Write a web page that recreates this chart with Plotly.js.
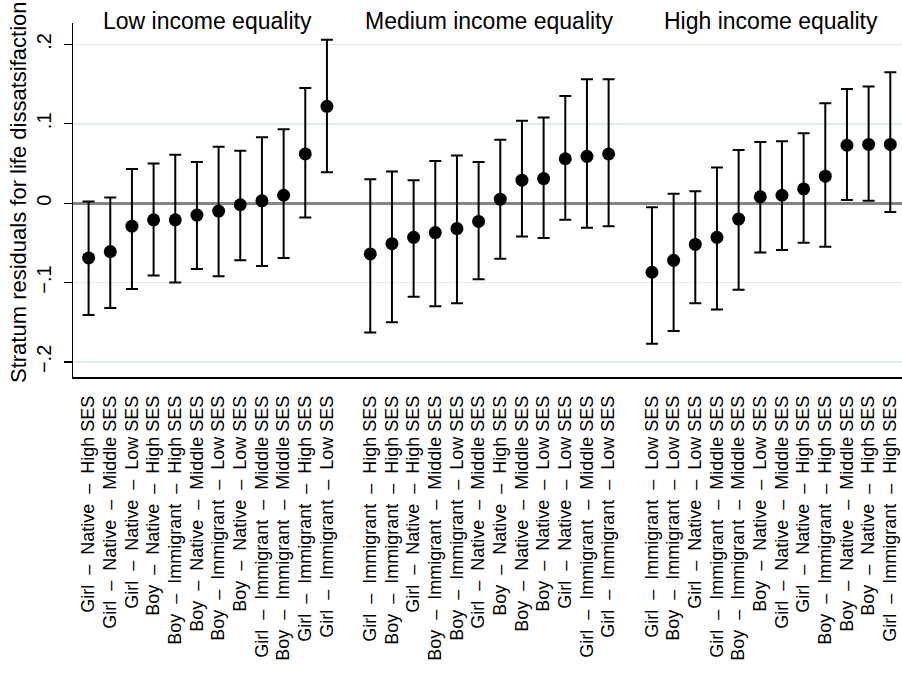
<!DOCTYPE html>
<html>
<head>
<meta charset="utf-8">
<script src="https://cdn.plot.ly/plotly-3.0.1.min.js"></script>
<style>
  html, body { margin: 0; padding: 0; background: #ffffff; }
  #chart { width: 902px; height: 673px; }
</style>
</head>
<body>
<div id="chart"></div>
<script>
// Panel headings
const panelTitles = ["Low income equality", "Medium income equality", "High income equality"];

// Stratum labels, ordered by estimate within each panel
const lowLabels = [
  "Girl – Native – High SES", "Girl – Native – Middle SES", "Girl – Native – Low SES",
  "Boy – Native – High SES", "Boy – Immigrant – High SES", "Boy – Native – Middle SES",
  "Boy – Immigrant – Low SES", "Boy – Native – Low SES", "Girl – Immigrant – Middle SES",
  "Boy – Immigrant – Middle SES", "Girl – Immigrant – High SES", "Girl – Immigrant – Low SES"
];
const mediumLabels = [
  "Girl – Immigrant – High SES", "Boy – Immigrant – High SES", "Girl – Native – High SES",
  "Boy – Immigrant – Middle SES", "Boy – Immigrant – Low SES", "Girl – Native – Middle SES",
  "Boy – Native – High SES", "Boy – Native – Middle SES", "Boy – Native – Low SES",
  "Girl – Native – Low SES", "Girl – Immigrant – Middle SES", "Girl – Immigrant – Low SES"
];
const highLabels = [
  "Girl – Immigrant – Low SES", "Boy – Immigrant – Low SES", "Girl – Native – Low SES",
  "Girl – Immigrant – Middle SES", "Boy – Immigrant – Middle SES", "Boy – Native – Low SES",
  "Girl – Native – Middle SES", "Girl – Native – High SES", "Boy – Immigrant – High SES",
  "Boy – Native – Middle SES", "Boy – Native – High SES", "Girl – Immigrant – High SES"
];

// Stratum residual estimates and 95% interval bounds
const lowEst   = [-0.069, -0.061, -0.029, -0.021, -0.021, -0.015, -0.010, -0.002, 0.003, 0.010, 0.062, 0.122];
const lowUpper = [ 0.002,  0.007,  0.043,  0.050,  0.061,  0.052,  0.071,  0.066, 0.083, 0.093, 0.145, 0.206];
const lowLower = [-0.141, -0.132, -0.108, -0.091, -0.100, -0.083, -0.092, -0.072, -0.079, -0.069, -0.018, 0.039];

const medEst   = [-0.064, -0.051, -0.043, -0.037, -0.032, -0.023, 0.005, 0.029, 0.031, 0.056, 0.059, 0.062];
const medUpper = [ 0.030,  0.040,  0.029,  0.053,  0.060,  0.052, 0.080, 0.104, 0.108, 0.135, 0.156, 0.156];
const medLower = [-0.163, -0.150, -0.118, -0.130, -0.126, -0.096, -0.070, -0.042, -0.044, -0.021, -0.031, -0.029];

const highEst   = [-0.087, -0.072, -0.052, -0.043, -0.020, 0.008, 0.010, 0.018, 0.034, 0.073, 0.074, 0.074];
const highUpper = [-0.005,  0.012,  0.015,  0.045,  0.067, 0.077, 0.078, 0.088, 0.126, 0.144, 0.147, 0.165];
const highLower = [-0.177, -0.161, -0.126, -0.134, -0.109, -0.062, -0.059, -0.050, -0.055, 0.004, 0.003, -0.011];

// y-axis ticks
const yTickVals = [-0.2, -0.1, 0, 0.1, 0.2];
const yTickText = ["\u2212.2", "\u2212.1", "0", ".1", ".2"];

// ---- build the plot ----
const groups = [
  { labels: lowLabels,    est: lowEst,  up: lowUpper,  lo: lowLower },
  { labels: mediumLabels, est: medEst,  up: medUpper,  lo: medLower },
  { labels: highLabels,   est: highEst, up: highUpper, lo: highLower }
];

const nb = "\u00a0";
const pad = s => s.split(" – ").join(nb + " –" + nb + " ");

const traces = [];
const tickVals = [];
const tickText = [];
const centers = [];
groups.forEach((g, gi) => {
  const start = 1 + gi * 13;               // one empty slot between panels
  const xs = g.est.map((_, i) => start + i);
  xs.forEach((x, i) => { tickVals.push(x); tickText.push(pad(g.labels[i])); });
  centers.push((xs[0] + xs[xs.length - 1]) / 2);
  traces.push({
    type: "scatter",
    mode: "markers",
    x: xs,
    y: g.est,
    marker: { color: "#000000", size: 13 },
    error_y: {
      type: "data",
      symmetric: false,
      array: g.up.map((u, i) => u - g.est[i]),
      arrayminus: g.lo.map((l, i) => g.est[i] - l),
      color: "#000000",
      thickness: 2,
      width: 6
    },
    cliponaxis: false,
    hoverinfo: "skip",
    showlegend: false
  });
});

const annotations = panelTitles.map((t, i) => ({
  text: t,
  xref: "x", yref: "paper",
  x: centers[i], y: 1,
  xanchor: "center", yanchor: "middle",
  yshift: 2,
  showarrow: false,
  font: { family: "Liberation Sans, Arial, sans-serif", size: 23, color: "#000000" }
}));

annotations.push({
  text: "Stratum residuals for life dissatsifaction",
  xref: "paper", yref: "paper",
  x: 0, y: 0.5,
  xshift: -55, yshift: 8,
  xanchor: "center", yanchor: "middle",
  textangle: -90,
  showarrow: false,
  font: { family: "Liberation Sans, Arial, sans-serif", size: 22, color: "#000000" }
});

const layout = {
  width: 902,
  height: 673,
  margin: { l: 73, r: 0, t: 23, b: 296, pad: 0 },
  paper_bgcolor: "#ffffff",
  plot_bgcolor: "#ffffff",
  font: { family: "Liberation Sans, Arial, sans-serif", color: "#000000" },
  xaxis: {
    range: [0.28, 38.54],
    tickmode: "array",
    tickvals: tickVals,
    ticktext: tickText,
    tickangle: -90,
    tickfont: { size: 18, color: "#000000" },
    ticks: "",
    ticklabelstandoff: 10,
    showgrid: false,
    zeroline: false,
    showline: true,
    linecolor: "#000000",
    linewidth: 1.5,
    automargin: false,
    fixedrange: true
  },
  yaxis: {
    range: [-0.219, 0.227],
    tickmode: "array",
    tickvals: yTickVals,
    ticktext: yTickText,
    tickangle: -90,
    tickfont: { size: 20, color: "#000000" },
    ticks: "outside",
    ticklen: 8,
    tickwidth: 1.2,
    tickcolor: "#000000",
    ticklabelstandoff: 5,
    showgrid: true,
    gridcolor: "#e1eced",
    gridwidth: 1.5,
    zeroline: true,
    zerolinecolor: "#858585",
    zerolinewidth: 3,
    showline: true,
    linecolor: "#000000",
    linewidth: 1.5,
    automargin: false,
    fixedrange: true
  },
  annotations: annotations,
  showlegend: false
};

Plotly.newPlot("chart", traces, layout, { displayModeBar: false, staticPlot: true });
</script>
</body>
</html>
